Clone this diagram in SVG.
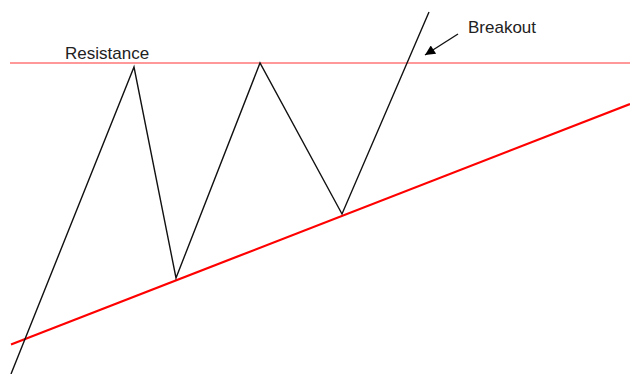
<svg xmlns="http://www.w3.org/2000/svg" width="630" height="374" viewBox="0 0 630 374">
<style>
.lbl{font-family:"Liberation Sans",Arial,sans-serif;font-size:17px;fill:#222}
.res{stroke:#f33;stroke-width:1.2;fill:none}
.sup{stroke:#f00;stroke-width:2.2;fill:none}
.price{stroke:#111;stroke-width:1.4;fill:none;stroke-linejoin:miter}
</style>
<defs>
<marker id="ah" viewBox="0 0 10 10" refX="10" refY="5" markerWidth="15" markerHeight="10" markerUnits="userSpaceOnUse" orient="auto"><path d="M0,0 L10,5 L0,10 z" fill="#000"/></marker>
</defs>
<rect width="630" height="374" fill="#fff"/>
<g id="connectors">
<line class="res" x1="10" y1="63" x2="630" y2="63"/>
<line class="sup" x1="11" y1="344.5" x2="630" y2="104"/>
<polyline class="price" points="11,374 134,67 176,278 260,63 342,214 429,12"/>
<line x1="458" y1="34" x2="425" y2="55" stroke="#111" stroke-width="1.4" marker-end="url(#ah)"/>
</g>
<g id="resistance-label"><text class="lbl" x="65" y="59">Resistance</text></g>
<g id="breakout-label"><text class="lbl" x="468" y="33">Breakout</text></g>
</svg>
